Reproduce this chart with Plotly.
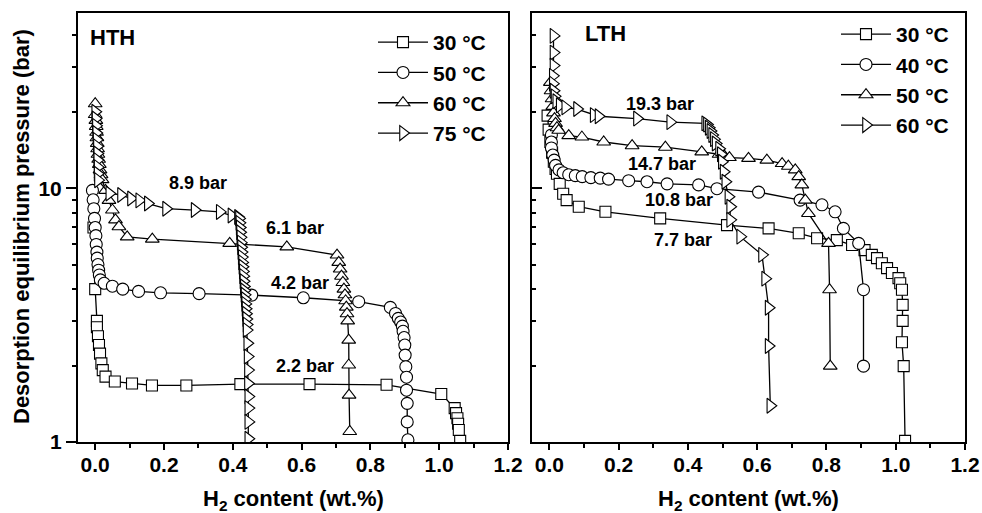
import plotly.graph_objects as go
import numpy as np

# ---------------- data ----------------
# HTH panel
hth_30_x = [-0.005, 0.0, 0.005, 0.005, 0.008, 0.011, 0.014, 0.018, 0.022, 0.03, 0.057, 0.107, 0.165, 0.265, 0.422, 0.623, 0.847, 1.006, 1.045, 1.049, 1.053, 1.055, 1.057, 1.061]
hth_30_y = [7.0, 4.0, 3.0, 2.83, 2.61, 2.41, 2.23, 2.04, 1.92, 1.81, 1.73, 1.70, 1.67, 1.67, 1.69, 1.69, 1.68, 1.545, 1.36, 1.30, 1.24, 1.18, 1.115, 1.01]

hth_50_x = [-0.008, -0.006, -0.004, -0.002, 0.0, 0.002, 0.003, 0.005, 0.006, 0.008, 0.01, 0.012, 0.015, 0.026, 0.05, 0.08, 0.126, 0.19, 0.302, 0.455, 0.605, 0.766, 0.858, 0.873, 0.881, 0.888, 0.893, 0.895, 0.898, 0.9, 0.901, 0.903, 0.905, 0.905, 0.907, 0.907, 0.909]
hth_50_y = [9.8, 9.0, 8.3, 7.6, 7.0, 6.5, 6.0, 5.6, 5.3, 5.0, 4.75, 4.55, 4.35, 4.22, 4.11, 4.0, 3.92, 3.87, 3.84, 3.79, 3.70, 3.57, 3.39, 3.21, 3.07, 2.97, 2.86, 2.73, 2.58, 2.41, 2.2, 1.98, 1.80, 1.60, 1.42, 1.20, 1.02]

hth_60_x = [0.0, 0.0, 0.002, 0.003, 0.004, 0.005, 0.006, 0.007, 0.008, 0.01, 0.012, 0.014, 0.017, 0.02, 0.03, 0.04, 0.05, 0.059, 0.069, 0.093, 0.166, 0.391, 0.557, 0.703, 0.708, 0.712, 0.716, 0.72, 0.723, 0.726, 0.728, 0.73, 0.732, 0.734, 0.737, 0.737, 0.738, 0.74]
hth_60_y = [21.5, 19.5, 18.5, 17.5, 16.6, 15.8, 15.0, 14.3, 13.6, 13.0, 12.4, 11.8, 11.3, 10.8, 9.8, 8.95, 8.2, 7.5, 7.05, 6.43, 6.3, 6.06, 5.87, 5.45, 5.1, 4.8, 4.5, 4.25, 4.0, 3.8, 3.6, 3.4, 3.2, 3.0, 2.52, 2.01, 1.53, 1.10]

hth_75_x = [0.0, 0.001, 0.002, 0.003, 0.004, 0.005, 0.006, 0.006, 0.007, 0.007, 0.008, 0.041, 0.075, 0.104, 0.128, 0.153, 0.206, 0.289, 0.362, 0.396, 0.415,
            0.418, 0.419, 0.42, 0.421, 0.422, 0.423, 0.424, 0.425, 0.426, 0.427, 0.428, 0.429, 0.43, 0.431, 0.432, 0.433, 0.434, 0.435, 0.436, 0.437, 0.438, 0.439, 0.44, 0.44,
            0.442, 0.443, 0.444, 0.444, 0.445, 0.445, 0.445, 0.445]
hth_75_y = [20.0, 18.8, 17.6, 16.5, 15.5, 14.6, 13.7, 12.9, 12.1, 11.4, 10.75, 9.53, 9.4, 9.1, 8.95, 8.7, 8.3, 8.2, 8.06, 7.8, 7.7,
            7.6, 7.3, 7.0, 6.7, 6.4, 6.1, 5.85, 5.6, 5.35, 5.1, 4.9, 4.7, 4.5, 4.3, 4.1, 3.95, 3.8, 3.65, 3.5, 3.35, 3.2, 3.05, 2.9, 2.76,
            2.45, 2.17, 1.92, 1.70, 1.51, 1.36, 1.2, 1.03]

# LTH panel
lth_30_x = [-0.005, -0.002, 0.003, 0.008, 0.013, 0.018, 0.022, 0.03, 0.04, 0.05, 0.085, 0.162, 0.32, 0.513, 0.633, 0.72, 0.773, 0.83, 0.874, 0.91, 0.931, 0.946, 0.96, 0.975, 0.989, 1.008, 1.013, 1.018, 1.02, 1.02, 1.018, 1.023, 1.027]
lth_30_y = [19.3, 17.0, 15.2, 13.8, 12.7, 11.9, 11.4, 10.4, 9.5, 8.97, 8.45, 8.07, 7.6, 7.15, 6.94, 6.64, 6.35, 6.24, 5.97, 5.7, 5.46, 5.3, 5.06, 4.84, 4.63, 4.42, 4.22, 3.98, 3.47, 3.0, 2.47, 1.99, 1.01]

lth_40_x = [0.006, 0.006, 0.006, 0.01, 0.014, 0.018, 0.028, 0.04, 0.056, 0.075, 0.095, 0.12, 0.147, 0.171, 0.229, 0.282, 0.34, 0.431, 0.484, 0.604, 0.724, 0.787, 0.825, 0.849, 0.893, 0.907, 0.907]
lth_40_y = [16.2, 15.2, 14.4, 13.5, 12.9, 12.3, 11.8, 11.5, 11.3, 11.2, 11.1, 11.0, 10.95, 10.85, 10.7, 10.6, 10.4, 10.3, 9.95, 9.65, 8.97, 8.6, 8.07, 6.94, 6.06, 3.98, 1.99]

lth_50_x = [0.003, 0.005, 0.008, 0.01, 0.012, 0.015, 0.018, 0.022, 0.027, 0.056, 0.094, 0.157, 0.239, 0.335, 0.44, 0.49, 0.505, 0.52, 0.575, 0.628, 0.672, 0.69, 0.71, 0.72, 0.729, 0.739, 0.748, 0.806, 0.809, 0.811]
lth_50_y = [26.1, 24.2, 22.5, 21.0, 19.8, 18.8, 18.0, 17.3, 16.9, 16.1, 15.9, 15.2, 14.7, 14.5, 13.9, 13.6, 13.4, 13.2, 13.1, 12.9, 12.5, 12.2, 11.8, 11.1, 10.3, 8.97, 7.95, 6.06, 3.98, 1.99]

lth_60_x = [0.012, 0.012, 0.012, 0.01, 0.01, 0.012, 0.015, 0.02, 0.03, 0.046, 0.08, 0.128, 0.142, 0.253, 0.349, 0.45, 0.455, 0.46, 0.465, 0.47, 0.475, 0.48, 0.49, 0.495, 0.498, 0.503, 0.508, 0.517, 0.522, 0.522, 0.551, 0.614, 0.623, 0.633, 0.633, 0.638]
lth_60_y = [39.8, 34.2, 30.4, 27.7, 25.8, 24.2, 23.0, 22.0, 21.2, 20.8, 20.5, 19.4, 19.2, 18.8, 18.2, 18.0, 17.8, 17.3, 16.8, 16.2, 15.6, 15.0, 14.3, 13.6, 12.7, 11.6, 10.6, 9.25, 8.45, 7.5, 6.44, 5.46, 4.4, 3.38, 2.39, 1.39]

hth_labels = ["30 °C", "50 °C", "60 °C", "75 °C"]
lth_labels = ["30 °C", "40 °C", "50 °C", "60 °C"]
symbols = ["square", "circle", "triangle-up", "triangle-right"]
marker_sizes = [11, 12, 12, 13]

hth_plateaus = ["8.9 bar", "6.1 bar", "4.2 bar", "2.2 bar"]
hth_plateau_x = [0.30, 0.581, 0.596, 0.61]
hth_plateau_y = [10.5, 6.97, 4.23, 1.99]
lth_plateaus = ["19.3 bar", "14.7 bar", "10.8 bar", "7.7 bar"]
lth_plateau_x = [0.32, 0.326, 0.375, 0.385]
lth_plateau_y = [21.5, 12.5, 9.0, 6.25]

x_ticks = [0.0, 0.2, 0.4, 0.6, 0.8, 1.0, 1.2]
x_minor = [0.1, 0.3, 0.5, 0.7, 0.9, 1.1]
y_major = [1, 10]
y_minor = [2, 3, 4, 5, 6, 7, 8, 9, 20, 30, 40]

# ---------------- figure ----------------
FONT = "Liberation Sans, Arial, sans-serif"
W, H = 982, 513
fig = go.Figure()

hth = [(hth_30_x, hth_30_y), (hth_50_x, hth_50_y), (hth_60_x, hth_60_y), (hth_75_x, hth_75_y)]
lth = [(lth_30_x, lth_30_y), (lth_40_x, lth_40_y), (lth_50_x, lth_50_y), (lth_60_x, lth_60_y)]

for (xs, ys), lab, sym, ms in zip(hth, hth_labels, symbols, marker_sizes):
    fig.add_trace(go.Scatter(x=xs, y=ys, mode="lines+markers", name=lab,
                             line=dict(color="black", width=1.3),
                             marker=dict(symbol=sym, size=ms, color="white",
                                         line=dict(color="black", width=1.1)),
                             xaxis="x", yaxis="y", legend="legend"))
for (xs, ys), lab, sym, ms in zip(lth, lth_labels, symbols, marker_sizes):
    fig.add_trace(go.Scatter(x=xs, y=ys, mode="lines+markers", name=lab,
                             line=dict(color="black", width=1.3),
                             marker=dict(symbol=sym, size=ms, color="white",
                                         line=dict(color="black", width=1.1)),
                             xaxis="x2", yaxis="y2", legend="legend2"))

xdom1 = [78 / W, 508 / W]
xdom2 = [532 / W, 965 / W]
ydom = [1 - 442 / H, 1 - 13 / H]
yrange = [0, 1.69]

tickfont = dict(family=FONT, size=21, color="black", weight="bold")

def xaxis_cfg(dom, anchor):
    return dict(domain=dom, anchor=anchor, range=[-0.05, 1.2], automargin=False,
                tickvals=x_ticks, ticktext=[f"{v:.1f}" for v in x_ticks],
                ticks="outside", ticklen=6, tickwidth=1.5, tickcolor="black",
                ticklabelstandoff=-3,
                minor=dict(ticks="outside", ticklen=3.5, tickwidth=1.5, tickcolor="black",
                           tickvals=x_minor),
                showline=True, linewidth=2, linecolor="black", mirror=True,
                showgrid=False, zeroline=False, tickfont=tickfont)

def yaxis_cfg(anchor, ticks, labels, side="left", overlay=None, line=True):
    d = dict(type="log", range=yrange, anchor=anchor, side=side, automargin=False,
             tickvals=y_major, ticktext=[str(v) for v in y_major],
             showticklabels=labels, ticks=ticks, ticklen=10, tickwidth=1.5, tickcolor="black",
             minor=dict(ticks=ticks, ticklen=4, tickwidth=1.5, tickcolor="black", tickvals=y_minor),
             showgrid=False, zeroline=False, tickfont=tickfont,
             showline=line, linewidth=2, linecolor="black")
    if overlay:
        d["overlaying"] = overlay
    else:
        d["domain"] = ydom
        d["mirror"] = True
    return d

fig.update_layout(
    width=W, height=H, margin=dict(l=0, r=0, t=0, b=0, autoexpand=False),
    paper_bgcolor="white", plot_bgcolor="white",
    font=dict(family=FONT, color="black", weight="bold"),
    xaxis=xaxis_cfg(xdom1, "y"),
    xaxis2=xaxis_cfg(xdom2, "y2"),
    yaxis=yaxis_cfg("x", "outside", True),
    yaxis2=yaxis_cfg("x2", "inside", False),
    yaxis3=yaxis_cfg("x", "inside", False, side="right", overlay="y", line=False),
    yaxis4=yaxis_cfg("x2", "inside", False, side="right", overlay="y2", line=False),
    legend=dict(x=373 / W, y=1 - 22 / H, xanchor="left", yanchor="top",
                bgcolor="rgba(0,0,0,0)", itemwidth=50,
                font=dict(family=FONT, size=21, color="black", weight="bold"), tracegroupgap=0),
    legend2=dict(x=836 / W, y=1 - 14 / H, xanchor="left", yanchor="top",
                 bgcolor="rgba(0,0,0,0)", itemwidth=50,
                 font=dict(family=FONT, size=21, color="black", weight="bold"), tracegroupgap=0),
    showlegend=True,
)

# axis titles as paper annotations
title_font = dict(family=FONT, size=22, color="black", weight="bold")
fig.add_annotation(text="Desorption equilibrium pressure (bar)", textangle=-90,
                   x=22 / W, y=1 - 227 / H, xref="paper", yref="paper",
                   xanchor="center", yanchor="middle", showarrow=False, font=title_font)
for cx in [(78 + 508) / 2, (532 + 965) / 2]:
    fig.add_annotation(text="H<sub>2</sub> content (wt.%)",
                       x=cx / W, y=1 - 500 / H, xref="paper", yref="paper",
                       xanchor="center", yanchor="middle", showarrow=False, font=title_font)

ann_font = dict(family=FONT, size=18, color="black", weight="bold")
for t, x, y in zip(hth_plateaus, hth_plateau_x, hth_plateau_y):
    fig.add_annotation(text=t, x=x, y=np.log10(y), xref="x", yref="y", showarrow=False, font=ann_font)
for t, x, y in zip(lth_plateaus, lth_plateau_x, lth_plateau_y):
    fig.add_annotation(text=t, x=x, y=np.log10(y), xref="x2", yref="y2", showarrow=False, font=ann_font)

panel_font = dict(family=FONT, size=22, color="black", weight="bold")
fig.add_annotation(text="HTH", x=88 / W, y=1 - 37 / H, xref="paper", yref="paper",
                   xanchor="left", yanchor="middle", showarrow=False, font=panel_font)
fig.add_annotation(text="LTH", x=583 / W, y=1 - 33 / H, xref="paper", yref="paper",
                   xanchor="left", yanchor="middle", showarrow=False, font=panel_font)

fig.write_html("out.html")
